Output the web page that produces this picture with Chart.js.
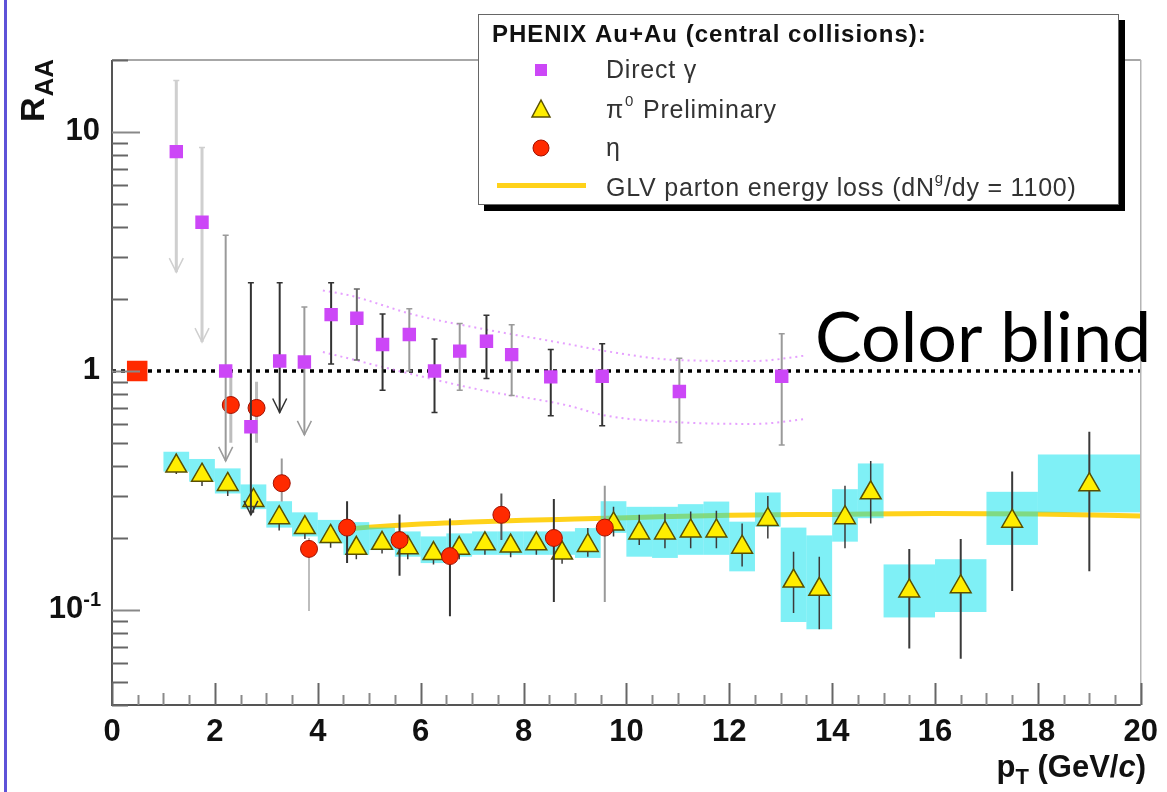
<!DOCTYPE html>
<html>
<head>
<meta charset="utf-8">
<script src="https://cdn.jsdelivr.net/npm/chart.js@4/dist/chart.umd.min.js"></script>
<style>
html,body{margin:0;padding:0;background:#fff;overflow:hidden}
canvas{display:block}
</style>
</head>
<body>
<canvas id="c" width="1167" height="792"></canvas>
<script>
// ---------------- DATA ----------------
// Direct photon R_AA
const gammaX  = [1.25, 1.75, 2.21, 2.70, 3.26, 3.74, 4.26, 4.76, 5.26, 5.78, 6.27, 6.76, 7.28, 7.77, 8.53, 9.53, 11.03, 13.02];
const gammaY  = [8.27, 4.19, 1.00, 0.584, 1.10, 1.09, 1.72, 1.66, 1.29, 1.42, 1.00, 1.21, 1.33, 1.17, 0.944, 0.95, 0.82, 0.95];
const gammaHi = [16.4, 8.6, 3.7, 2.34, 2.34, 1.85, 2.34, 2.20, 1.73, 1.82, 1.36, 1.58, 1.71, 1.56, 1.23, 1.30, 1.13, 1.43];
const gammaLo = [2.59, 1.32, 0.42, 0.25, 0.67, 0.54, 1.07, 1.11, 0.83, 1.00, 0.67, 0.83, 0.93, 0.79, 0.65, 0.59, 0.50, 0.49];
const gammaUpperLimit = [true, true, true, true, true, true, false, false, false, false, false, false, false, false, false, false, false, false];

// pi0 preliminary R_AA
const pi0X  = [1.25, 1.75, 2.25, 2.75, 3.25, 3.75, 4.25, 4.75, 5.25, 5.75, 6.25, 6.75, 7.25, 7.75, 8.25, 8.75, 9.25, 9.75, 10.25, 10.75, 11.25, 11.75, 12.25, 12.75, 13.25, 13.75, 14.25, 14.75, 15.5, 16.5, 17.5, 19.0];
const pi0Y  = [0.40, 0.366, 0.335, 0.287, 0.243, 0.221, 0.203, 0.181, 0.190, 0.182, 0.172, 0.181, 0.189, 0.185, 0.189, 0.173, 0.186, 0.229, 0.210, 0.210, 0.214, 0.214, 0.183, 0.239, 0.132, 0.122, 0.243, 0.309, 0.120, 0.125, 0.235, 0.334];
const pi0StatHi = [0.45, 0.41, 0.375, 0.32, 0.27, 0.245, 0.225, 0.20, 0.21, 0.20, 0.19, 0.20, 0.21, 0.205, 0.21, 0.195, 0.22, 0.27, 0.25, 0.254, 0.258, 0.26, 0.23, 0.30, 0.175, 0.167, 0.331, 0.42, 0.18, 0.198, 0.379, 0.556];
const pi0StatLo = [0.37, 0.33, 0.30, 0.255, 0.215, 0.198, 0.182, 0.163, 0.172, 0.163, 0.155, 0.163, 0.17, 0.166, 0.17, 0.156, 0.167, 0.203, 0.187, 0.181, 0.181, 0.181, 0.152, 0.199, 0.097, 0.083, 0.181, 0.23, 0.069, 0.0625, 0.12, 0.145];
const pi0SysHi = [0.459, 0.428, 0.391, 0.335, 0.285, 0.256, 0.238, 0.233, 0.221, 0.213, 0.203, 0.209, 0.213, 0.213, 0.213, 0.213, 0.220, 0.285, 0.270, 0.270, 0.277, 0.284, 0.234, 0.310, 0.221, 0.205, 0.320, 0.410, 0.155, 0.163, 0.312, 0.447];
const pi0SysLo = [0.379, 0.344, 0.307, 0.264, 0.221, 0.203, 0.190, 0.170, 0.178, 0.167, 0.157, 0.167, 0.170, 0.170, 0.170, 0.170, 0.165, 0.210, 0.167, 0.165, 0.170, 0.170, 0.145, 0.223, 0.089, 0.083, 0.193, 0.242, 0.093, 0.098, 0.187, 0.256];
const pi0BinLo = [1.0, 1.5, 2.0, 2.5, 3.0, 3.5, 4.0, 4.5, 5.0, 5.5, 6.0, 6.5, 7.0, 7.5, 8.0, 8.5, 9.0, 9.5, 10.0, 10.5, 11.0, 11.5, 12.0, 12.5, 13.0, 13.5, 14.0, 14.5, 15.0, 16.0, 17.0, 18.0];
const pi0BinHi = [1.5, 2.0, 2.5, 3.0, 3.5, 4.0, 4.5, 5.0, 5.5, 6.0, 6.5, 7.0, 7.5, 8.0, 8.5, 9.0, 9.5, 10.0, 10.5, 11.0, 11.5, 12.0, 12.5, 13.0, 13.5, 14.0, 14.5, 15.0, 16.0, 17.0, 18.0, 20.0];

// eta R_AA
const etaX  = [2.31, 2.81, 3.30, 3.83, 4.57, 5.59, 6.57, 7.57, 8.59, 9.58];
const etaY  = [0.72, 0.70, 0.339, 0.180, 0.221, 0.196, 0.168, 0.250, 0.200, 0.221];
const etaHi = [1.00, 0.90, 0.43, 0.20, 0.285, 0.251, 0.241, 0.307, 0.291, 0.331];
const etaLo = [0.50, 0.50, 0.284, 0.099, 0.157, 0.139, 0.094, 0.196, 0.108, 0.108];

// GLV parton energy loss curve
const glvX = [4.6, 5, 6, 7, 8, 9, 10, 12, 14, 16, 18, 20];
const glvY = [0.218, 0.222, 0.229, 0.233, 0.237, 0.240, 0.243, 0.249, 0.251, 0.253, 0.252, 0.247];

// direct photon expectation band (dotted pink)
const bandUpX = [4.1, 4.62, 5.91, 7.2, 8.82, 9.6, 11.0, 12.5, 13.5];
const bandUpY = [2.17, 2.07, 1.71, 1.50, 1.30, 1.21, 1.11, 1.10, 1.16];
const bandLoX = [4.1, 5.91, 7.2, 8.82, 9.6, 11.0, 12.5, 13.5];
const bandLoY = [1.20, 0.96, 0.83, 0.72, 0.65, 0.61, 0.60, 0.63];

// unity line and normalization box
const unityX = [0, 20];
const unityY = [1, 1];
const normX = [0.49];
const normY = [1.0];

// axis ticks
const xTickValues = [0, 2, 4, 6, 8, 10, 12, 14, 16, 18, 20];
const yTickValues = [0.1, 1, 10];
const yTickLabels = ['10', '1', '10'];
const yTickExponents = ['-1', '', ''];

// legend texts
const legendTitle = 'PHENIX Au+Au (central collisions):';
const legendLabels = ['Direct \u03B3', '\u03C0', '\u03B7', 'GLV parton energy loss (dN'];

// ---------------- STYLE ----------------
const FONT = '"Liberation Sans", Arial, Helvetica, sans-serif';
const C_GAMMA = '#cc47f7';
const C_PI0 = '#ffee00';
const C_ETA = '#ff2a00';
const C_GLV = '#ffd21a';
const C_BOX = 'rgba(0,225,238,0.5)';
const gammaBarColor = ['#cfcfcf','#cfcfcf','#9a9a9a','#333','#333','#9a9a9a','#333','#666','#333','#9a9a9a','#333','#9a9a9a','#333','#9a9a9a','#333','#333','#9a9a9a','#9a9a9a'];
const etaBarColor = ['#bdbdbd','#bdbdbd','#9a9a9a','#bdbdbd','#333','#333','#333','#555','#333','#999'];

const pts = (xs, ys) => xs.map((x, i) => ({x, y: ys[i]}));

function vbar(ctx, x, y1, y2, color, w) {
  ctx.strokeStyle = color; ctx.lineWidth = w;
  ctx.beginPath(); ctx.moveTo(x, y1); ctx.lineTo(x, y2); ctx.stroke();
}

const phenixPlugin = {
  id: 'phenix',
  beforeDatasetDraw(chart, args) {
    const ds = chart.data.datasets[args.index];
    const {ctx, chartArea: a} = chart;
    const xs = chart.scales.x, ys = chart.scales.y;
    ctx.save();
    ctx.beginPath(); ctx.rect(a.left, a.top, a.right - a.left, a.bottom - a.top); ctx.clip();
    if (ds.key === 'pi0') {
      ctx.fillStyle = C_BOX;
      for (let i = 0; i < pi0X.length; i++) {
        const x1 = xs.getPixelForValue(pi0BinLo[i]), x2 = xs.getPixelForValue(pi0BinHi[i]);
        const y1 = ys.getPixelForValue(pi0SysHi[i]), y2 = ys.getPixelForValue(pi0SysLo[i]);
        ctx.fillRect(x1, y1, x2 - x1, y2 - y1);
      }
      for (let i = 0; i < pi0X.length; i++) {
        const px = xs.getPixelForValue(pi0X[i]);
        vbar(ctx, px, ys.getPixelForValue(pi0StatHi[i]), ys.getPixelForValue(pi0StatLo[i]), '#3a3a3a', i >= 28 ? 2 : 1.5);
      }
    } else if (ds.key === 'eta') {
      for (let i = 0; i < etaX.length; i++) {
        const px = xs.getPixelForValue(etaX[i]);
        vbar(ctx, px, ys.getPixelForValue(etaHi[i]), ys.getPixelForValue(etaLo[i]), etaBarColor[i], i < 2 ? 3 : 2);
      }
    } else if (ds.key === 'gamma') {
      for (let i = 0; i < gammaX.length; i++) {
        const px = xs.getPixelForValue(gammaX[i]);
        const yh = ys.getPixelForValue(gammaHi[i]), yl = ys.getPixelForValue(gammaLo[i]);
        const col = gammaBarColor[i];
        const w = i < 2 ? 3 : 2;
        vbar(ctx, px, yh, yl, col, w);
        ctx.lineWidth = 1.5;
        ctx.beginPath(); ctx.moveTo(px - 3, yh); ctx.lineTo(px + 3, yh); ctx.stroke();
        if (gammaUpperLimit[i]) {
          ctx.beginPath(); ctx.moveTo(px - 7, yl - 14); ctx.lineTo(px, yl); ctx.lineTo(px + 7, yl - 14); ctx.stroke();
        } else {
          ctx.beginPath(); ctx.moveTo(px - 3, yl); ctx.lineTo(px + 3, yl); ctx.stroke();
        }
      }
    }
    ctx.restore();
  },
  afterDraw(chart) {
    const {ctx, chartArea: a} = chart;
    const xs = chart.scales.x, ys = chart.scales.y;
    ctx.save();
    // frame
    ctx.lineCap = 'butt';
    ctx.strokeStyle = '#8a8a8a'; ctx.lineWidth = 1.5;
    ctx.beginPath(); ctx.moveTo(a.left, a.top); ctx.lineTo(a.right, a.top); ctx.stroke();
    ctx.strokeStyle = '#b5b5b5';
    ctx.beginPath(); ctx.moveTo(a.right, a.top); ctx.lineTo(a.right, a.bottom); ctx.stroke();
    ctx.strokeStyle = '#555'; ctx.lineWidth = 2;
    ctx.beginPath(); ctx.moveTo(a.left, a.top); ctx.lineTo(a.left, a.bottom); ctx.lineTo(a.right, a.bottom); ctx.stroke();
    // x ticks (inside)
    ctx.lineWidth = 2;
    for (let k = 0; k <= 40; k++) {
      const v = k * 0.5;
      const px = Math.round(xs.getPixelForValue(v)) + 0.5;
      const len = (k % 4 === 0) ? 22 : (k % 2 === 0 ? 12 : 10);
      ctx.strokeStyle = (k % 4 === 0) ? '#666' : '#8a8a8a';
      ctx.beginPath(); ctx.moveTo(px, a.bottom); ctx.lineTo(px, a.bottom - len); ctx.stroke();
    }
    // y ticks (inside)
    for (const d of [0.01, 0.1, 1, 10]) {
      for (let m = 1; m <= 9; m++) {
        const v = m * d;
        if (v < 0.0399 || v > 20.01) continue;
        const py = Math.round(ys.getPixelForValue(v)) + 0.5;
        const len = m === 1 ? 28 : 16;
        ctx.strokeStyle = m === 1 ? '#888' : '#666';
        ctx.beginPath(); ctx.moveTo(a.left, py); ctx.lineTo(a.left + len, py); ctx.stroke();
      }
    }
    // y tick labels (with exponents)
    ctx.fillStyle = '#111'; ctx.textBaseline = 'middle';
    for (let i = 0; i < yTickValues.length; i++) {
      const py = ys.getPixelForValue(yTickValues[i]);
      if (yTickExponents[i]) {
        ctx.font = 'bold 20px ' + FONT; ctx.textAlign = 'right';
        ctx.fillText(yTickExponents[i], 101, py - 9);
        const we = ctx.measureText(yTickExponents[i]).width;
        ctx.font = 'bold 31px ' + FONT;
        ctx.fillText(yTickLabels[i], 101 - we, py);
      } else {
        ctx.font = 'bold 31px ' + FONT; ctx.textAlign = 'right';
        ctx.fillText(yTickLabels[i], 100, py);
      }
    }
    // y axis title R_AA (rotated)
    ctx.fillStyle = '#111';
    ctx.save();
    ctx.translate(44, 122); ctx.rotate(-Math.PI / 2);
    ctx.textBaseline = 'alphabetic'; ctx.textAlign = 'left';
    ctx.font = 'bold 34px ' + FONT;
    ctx.fillText('R', 0, 0);
    const wR = ctx.measureText('R').width;
    ctx.font = 'bold 26px ' + FONT;
    ctx.fillText('AA', wR + 1, 9);
    ctx.restore();
    // x axis title p_T (GeV/c)
    {
      const fMain = 'bold 31px ' + FONT, fSub = 'bold 22px ' + FONT, fIt = 'italic bold 31px ' + FONT;
      const parts = [['p', fMain, 0], ['T', fSub, 7], [' (GeV/', fMain, 0], ['c', fIt, 0], [')', fMain, 0]];
      let total = 0;
      for (const p of parts) { ctx.font = p[1]; total += ctx.measureText(p[0]).width; }
      let x = 1146 - total;
      ctx.textAlign = 'left'; ctx.textBaseline = 'alphabetic';
      for (const p of parts) { ctx.font = p[1]; ctx.fillText(p[0], x, 777 + p[2]); x += ctx.measureText(p[0]).width; }
    }
    // legend
    const L = {x: 478, y: 14, w: 641, h: 191};
    ctx.fillStyle = '#000';
    ctx.fillRect(L.x + 6, L.y + 6, L.w, L.h);
    ctx.fillStyle = '#fff';
    ctx.fillRect(L.x, L.y, L.w, L.h);
    ctx.strokeStyle = '#666'; ctx.lineWidth = 1;
    ctx.strokeRect(L.x + 0.5, L.y + 0.5, L.w - 1, L.h - 1);
    ctx.fillStyle = '#111'; ctx.textAlign = 'left'; ctx.textBaseline = 'alphabetic';
    ctx.letterSpacing = '1px';
    ctx.font = 'bold 24px ' + FONT;
    ctx.fillText(legendTitle, 492, 42);
    ctx.letterSpacing = '0.8px';
    ctx.fillStyle = '#333';
    ctx.font = '25px ' + FONT;
    ctx.fillText(legendLabels[0], 606, 78);
    // pi0 label with superscript
    ctx.fillText(legendLabels[1], 606, 118);
    let wx = 606 + ctx.measureText(legendLabels[1]).width;
    ctx.font = '15px ' + FONT; ctx.fillText('0', wx + 1, 106); wx += ctx.measureText('0').width + 2;
    ctx.font = '25px ' + FONT; ctx.fillText(' Preliminary', wx, 118);
    ctx.fillText(legendLabels[2], 606, 156);
    ctx.fillText(legendLabels[3], 606, 196);
    wx = 606 + ctx.measureText(legendLabels[3]).width;
    ctx.font = '15px ' + FONT; ctx.fillText('g', wx, 183); wx += ctx.measureText('g').width;
    ctx.font = '25px ' + FONT; ctx.fillText('/dy = 1100)', wx, 196);
    ctx.letterSpacing = '0px';
    // legend markers
    ctx.fillStyle = C_GAMMA; ctx.fillRect(535, 64, 12, 12);
    ctx.beginPath(); ctx.moveTo(541, 100); ctx.lineTo(550, 117); ctx.lineTo(532, 117); ctx.closePath();
    ctx.fillStyle = C_PI0; ctx.fill(); ctx.strokeStyle = '#5a5000'; ctx.lineWidth = 1.5; ctx.stroke();
    ctx.beginPath(); ctx.arc(541, 148, 8, 0, Math.PI * 2);
    ctx.fillStyle = C_ETA; ctx.fill(); ctx.strokeStyle = '#a01000'; ctx.lineWidth = 1; ctx.stroke();
    ctx.fillStyle = C_GLV; ctx.fillRect(497, 183, 89, 5);
    // Color blind annotation
    ctx.fillStyle = '#000';
    ctx.font = '70px Lato, "Open Sans", sans-serif';
    ctx.fillText('Color blind', 815, 362, 341);
    // slide left border
    ctx.fillStyle = '#5e52d8';
    ctx.fillRect(4, 0, 3, 792);
    ctx.restore();
  }
};

const chart = new Chart(document.getElementById('c'), {
  type: 'scatter',
  data: {
    datasets: [
      { key: 'unity', label: 'unity', data: pts(unityX, unityY), showLine: true, pointRadius: 0,
        borderColor: '#000', borderWidth: 3.5, borderDash: [4, 5], order: 10 },
      { key: 'bandUp', label: 'band up', data: pts(bandUpX, bandUpY), showLine: true, pointRadius: 0,
        borderColor: 'rgba(220,120,255,0.7)', borderWidth: 2, borderDash: [2, 4], cubicInterpolationMode: 'monotone', order: 9 },
      { key: 'bandLo', label: 'band low', data: pts(bandLoX, bandLoY), showLine: true, pointRadius: 0,
        borderColor: 'rgba(220,120,255,0.7)', borderWidth: 2, borderDash: [2, 4], cubicInterpolationMode: 'monotone', order: 9 },
      { key: 'glv', label: 'GLV parton energy loss', data: pts(glvX, glvY), showLine: true, pointRadius: 0,
        borderColor: C_GLV, borderWidth: 5, cubicInterpolationMode: 'monotone', order: 8 },
      { key: 'pi0', label: 'pi0 Preliminary', data: pts(pi0X, pi0Y), pointStyle: 'triangle', pointRadius: 12,
        backgroundColor: C_PI0, borderColor: '#5a5000', borderWidth: 1.5, order: 5 },
      { key: 'eta', label: 'eta', data: pts(etaX, etaY), pointStyle: 'circle', pointRadius: 8.5,
        backgroundColor: C_ETA, borderColor: '#a01000', borderWidth: 1, order: 4 },
      { key: 'gamma', label: 'Direct gamma', data: pts(gammaX, gammaY), pointStyle: 'rect', pointRadius: 9.5,
        backgroundColor: C_GAMMA, borderWidth: 0, order: 3 },
      { key: 'norm', label: 'normalization', data: pts(normX, normY), pointStyle: 'rect', pointRadius: 14.5,
        backgroundColor: '#ff2a00', borderWidth: 0, order: 1 }
    ]
  },
  options: {
    responsive: false,
    animation: false,
    devicePixelRatio: 1,
    layout: { padding: { left: 0, top: 60, right: 21, bottom: 0 } },
    plugins: { legend: { display: false }, tooltip: { enabled: false } },
    scales: {
      x: {
        type: 'linear', min: 0, max: 20,
        grid: { display: false, drawTicks: false }, border: { display: false },
        afterBuildTicks(s) { s.ticks = xTickValues.map(v => ({ value: v })); },
        ticks: { font: { family: FONT, size: 31, weight: 'bold' }, color: '#111', padding: 9, maxRotation: 0, autoSkip: false },
        afterFit(s) { s.height = 87; }
      },
      y: {
        type: 'logarithmic', min: 0.04, max: 20,
        grid: { display: false, drawTicks: false }, border: { display: false },
        afterBuildTicks(s) { s.ticks = yTickValues.map(v => ({ value: v })); },
        ticks: { display: false },
        afterFit(s) { s.width = 112; }
      }
    }
  },
  plugins: [phenixPlugin]
});
</script>
</body>
</html>
